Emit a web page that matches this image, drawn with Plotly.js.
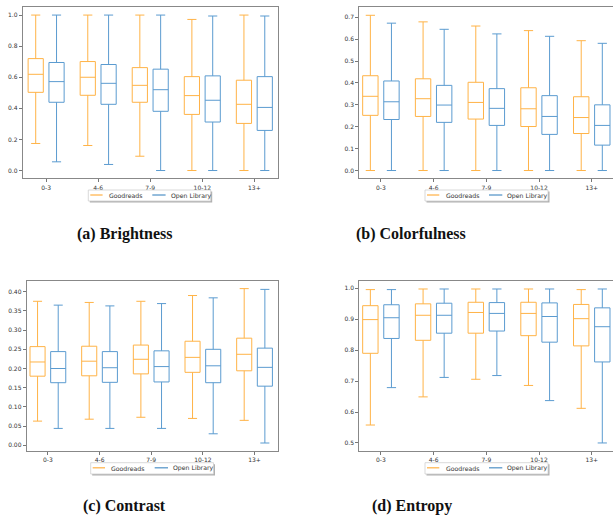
<!DOCTYPE html>
<html>
<head>
<meta charset="utf-8">
<script src="https://cdn.plot.ly/plotly-3.0.1.min.js"></script>
<style>
html,body{margin:0;padding:0;overflow:hidden;background:#fff;width:613px;height:519px;}
#chart{width:620px;height:519px;}
</style>
</head>
<body>
<div id="chart"></div>
<script>
// ---- data ----
const categories = ['0-3', '4-6', '7-9', '10-12', '13+'];
const seriesNames = ['Goodreads', 'Open Library'];
const captions = ['(a) Brightness', '(b) Colorfulness', '(c) Contrast', '(d) Entropy'];

// Brightness
const brightGR_lo  = [0.174, 0.161, 0.092, 0.000, 0.000];
const brightGR_q1  = [0.503, 0.484, 0.439, 0.361, 0.303];
const brightGR_med = [0.619, 0.600, 0.548, 0.482, 0.426];
const brightGR_q3  = [0.720, 0.701, 0.662, 0.604, 0.581];
const brightGR_hi  = [1.000, 1.000, 1.000, 0.972, 1.000];
const brightOL_lo  = [0.056, 0.039, 0.000, 0.000, 0.000];
const brightOL_q1  = [0.439, 0.426, 0.381, 0.312, 0.258];
const brightOL_med = [0.572, 0.561, 0.520, 0.452, 0.406];
const brightOL_q3  = [0.695, 0.682, 0.652, 0.609, 0.604];
const brightOL_hi  = [1.000, 1.000, 1.000, 0.994, 0.994];

// Colorfulness
const colorGR_lo  = [0.000, 0.000, 0.000, 0.000, 0.000];
const colorGR_q1  = [0.252, 0.247, 0.235, 0.201, 0.169];
const colorGR_med = [0.339, 0.328, 0.311, 0.282, 0.242];
const colorGR_q3  = [0.433, 0.419, 0.403, 0.378, 0.337];
const colorGR_hi  = [0.709, 0.679, 0.660, 0.639, 0.593];
const colorOL_lo  = [0.000, 0.000, 0.000, 0.000, 0.000];
const colorOL_q1  = [0.233, 0.220, 0.206, 0.165, 0.116];
const colorOL_med = [0.314, 0.299, 0.284, 0.247, 0.206];
const colorOL_q3  = [0.409, 0.389, 0.374, 0.342, 0.300];
const colorOL_hi  = [0.673, 0.645, 0.624, 0.613, 0.581];

// Contrast
const contrGR_lo  = [0.063, 0.068, 0.073, 0.070, 0.065];
const contrGR_q1  = [0.180, 0.181, 0.186, 0.190, 0.194];
const contrGR_med = [0.217, 0.219, 0.224, 0.229, 0.237];
const contrGR_q3  = [0.257, 0.258, 0.261, 0.271, 0.279];
const contrGR_hi  = [0.375, 0.372, 0.375, 0.390, 0.408];
const contrOL_lo  = [0.044, 0.044, 0.044, 0.030, 0.006];
const contrOL_q1  = [0.163, 0.164, 0.165, 0.163, 0.154];
const contrOL_med = [0.200, 0.202, 0.205, 0.207, 0.203];
const contrOL_q3  = [0.244, 0.244, 0.246, 0.250, 0.253];
const contrOL_hi  = [0.365, 0.363, 0.369, 0.384, 0.406];

// Entropy
const entrGR_lo  = [0.558, 0.649, 0.706, 0.686, 0.612];
const entrGR_q1  = [0.790, 0.832, 0.855, 0.847, 0.814];
const entrGR_med = [0.899, 0.913, 0.922, 0.919, 0.902];
const entrGR_q3  = [0.944, 0.950, 0.955, 0.955, 0.948];
const entrGR_hi  = [0.996, 0.998, 0.998, 0.998, 0.996];
const entrOL_lo  = [0.679, 0.712, 0.718, 0.637, 0.500];
const entrOL_q1  = [0.838, 0.855, 0.862, 0.826, 0.762];
const entrOL_med = [0.905, 0.913, 0.919, 0.909, 0.876];
const entrOL_q3  = [0.947, 0.952, 0.954, 0.953, 0.937];
const entrOL_hi  = [0.996, 0.998, 0.998, 0.998, 0.998];

// y tick values per panel
const ticksA = [0.0, 0.2, 0.4, 0.6, 0.8, 1.0];
const ticksB = [0.0, 0.1, 0.2, 0.3, 0.4, 0.5, 0.6, 0.7];
const ticksC = [0.00, 0.05, 0.10, 0.15, 0.20, 0.25, 0.30, 0.35, 0.40];
const ticksD = [0.5, 0.6, 0.7, 0.8, 0.9, 1.0];

// ---- styling / layout ----
const W = 620, H = 519;
const px = v => v / W;
const py = v => 1 - v / H;
const boxColors = ['#ffb347', '#5b9bd0'];
const legendColors = ['#ffa01e', '#2b7bba'];

const panels = [
  {ax: '', data: [[brightGR_lo, brightGR_q1, brightGR_med, brightGR_q3, brightGR_hi],
                  [brightOL_lo, brightOL_q1, brightOL_med, brightOL_q3, brightOL_hi]],
   xd: [22.7, 278.3], yd: [7.3, 178.3], xr: [-0.45, 4.46], yr: [-0.05, 1.05],
   ticks: ticksA, fmt: '.1f', leg: [88.3, 210.7, 190, 201], cap: [124.7, 233.5]},
  {ax: '2', data: [[colorGR_lo, colorGR_q1, colorGR_med, colorGR_q3, colorGR_hi],
                   [colorOL_lo, colorOL_q1, colorOL_med, colorOL_q3, colorOL_hi]],
   xd: [359.3, 616], yd: [7.3, 178.3], xr: [-0.41, 4.46], yr: [-0.0355, 0.7455],
   ticks: ticksB, fmt: '.1f', leg: [425, 548, 190, 201], cap: [411, 233.5]},
  {ax: '3', data: [[contrGR_lo, contrGR_q1, contrGR_med, contrGR_q3, contrGR_hi],
                   [contrOL_lo, contrOL_q1, contrOL_med, contrOL_q3, contrOL_hi]],
   xd: [26.7, 278.3], yd: [280.7, 451], xr: [-0.41, 4.46], yr: [-0.0148, 0.4286],
   ticks: ticksC, fmt: '.2f', leg: [90.7, 213.5, 462.7, 474], cap: [124.5, 506]},
  {ax: '4', data: [[entrGR_lo, entrGR_q1, entrGR_med, entrGR_q3, entrGR_hi],
                   [entrOL_lo, entrOL_q1, entrOL_med, entrOL_q3, entrOL_hi]],
   xd: [359.3, 616], yd: [280.7, 451], xr: [-0.41, 4.46], yr: [0.474, 1.0248],
   ticks: ticksD, fmt: '.1f', leg: [425, 548, 462.7, 474], cap: [411.5, 506]}
];

const tickFont = {family: 'DejaVu Sans', size: 6, color: '#333'};
const traces = [];
const layout = {
  width: W, height: H,
  margin: {l: 0, r: 0, t: 0, b: 0},
  paper_bgcolor: '#fff', plot_bgcolor: '#fff',
  showlegend: false,
  boxmode: 'group', boxgap: 0.2, boxgroupgap: 0.27,
  shapes: [], annotations: []
};

panels.forEach((p, i) => {
  p.data.forEach((s, k) => {
    traces.push({
      type: 'box', name: seriesNames[k],
      x: categories,
      lowerfence: s[0], q1: s[1], median: s[2], q3: s[3], upperfence: s[4],
      xaxis: 'x' + p.ax, yaxis: 'y' + p.ax,
      alignmentgroup: 'panel' + i,
      offsetgroup: 'series' + k,
      line: {color: boxColors[k], width: 1},
      fillcolor: 'rgba(255,255,255,0)',
      whiskerwidth: 0.6,
      boxpoints: false,
      showlegend: false,
      hoverinfo: 'skip'
    });
  });
  const axCommon = {
    showline: true, mirror: true, linecolor: '#888', linewidth: 1,
    showgrid: false, zeroline: false,
    ticks: 'outside', ticklen: 3, tickwidth: 0.8, tickcolor: '#555',
    tickfont: tickFont
  };
  layout['xaxis' + p.ax] = Object.assign({}, axCommon, {
    domain: [px(p.xd[0]), px(p.xd[1])],
    anchor: 'y' + p.ax,
    type: 'category', categoryarray: categories, range: p.xr,
    tickvals: categories
  });
  layout['yaxis' + p.ax] = Object.assign({}, axCommon, {
    domain: [py(p.yd[1]), py(p.yd[0])],
    anchor: 'x' + p.ax,
    range: p.yr, tickvals: p.ticks, tickformat: p.fmt
  });

  // legend (box with shadow, line samples, labels)
  const [lx0, lx1, ly0, ly1] = p.leg;
  const lyc = (ly0 + ly1) / 2;
  layout.shapes.push({type: 'rect', xref: 'paper', yref: 'paper',
    x0: px(lx0 + 1.5), x1: px(lx1 + 1.5), y0: py(ly0 + 1.5), y1: py(ly1 + 1.5),
    fillcolor: '#b0b0b0', line: {width: 0}});
  layout.shapes.push({type: 'rect', xref: 'paper', yref: 'paper',
    x0: px(lx0), x1: px(lx1), y0: py(ly0), y1: py(ly1),
    fillcolor: '#fff', line: {color: '#cfcfcf', width: 0.8}});
  const sampleX = [[lx0 + 2, lx0 + 14.3], [lx0 + 64, lx0 + 77.3]];
  const labelX = [lx0 + 19.5, lx0 + 81.2];
  seriesNames.forEach((nm, k) => {
    layout.shapes.push({type: 'line', xref: 'paper', yref: 'paper',
      x0: px(sampleX[k][0]), x1: px(sampleX[k][1]), y0: py(lyc - 0.5), y1: py(lyc - 0.5),
      line: {color: legendColors[k], width: 1}});
    layout.annotations.push({xref: 'paper', yref: 'paper',
      x: px(labelX[k]), y: py(lyc), xanchor: 'left', yanchor: 'middle',
      text: nm, showarrow: false, borderpad: 0,
      font: {family: 'DejaVu Sans', size: 6.2, color: '#333'}});
  });

  // caption
  layout.annotations.push({xref: 'paper', yref: 'paper',
    x: px(p.cap[0]), y: py(p.cap[1]), xanchor: 'center', yanchor: 'middle',
    text: '<b>' + captions[i] + '</b>', showarrow: false,
    font: {family: 'Liberation Serif', size: 16, color: '#111'}});
});

Plotly.newPlot('chart', traces, layout, {displayModeBar: false, staticPlot: true});
</script>
</body>
</html>
